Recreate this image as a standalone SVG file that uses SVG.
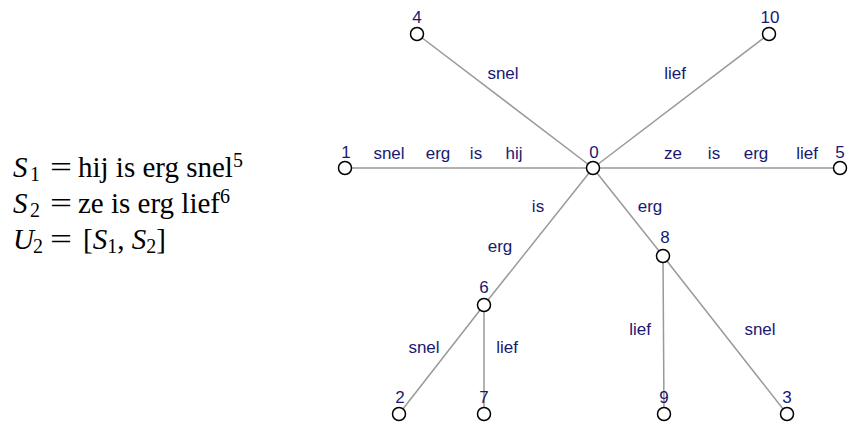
<svg xmlns="http://www.w3.org/2000/svg" width="849" height="426" viewBox="0 0 849 426">
<style>
.e{stroke:#999;stroke-width:1.5;fill:none}
.n{fill:#fff;stroke:#000;stroke-width:1.5}
.t{font-family:"Liberation Sans",Arial,sans-serif;font-size:17px;fill:#191970;text-anchor:middle}
.m{font-family:"Liberation Serif","Times New Roman",serif;font-size:29px;fill:#000}
.i{font-style:italic}
.s{font-size:20px}
</style>
<rect width="849" height="426" fill="#fff"/>
<g id="formula">
<text class="m" y="177"><tspan class="i" x="13">S</tspan><tspan class="s" x="30" y="181">1</tspan><tspan x="50" y="177" textLength="22" lengthAdjust="spacingAndGlyphs">=</tspan><tspan x="78">hij is erg snel</tspan><tspan class="s" dy="-10">5</tspan></text>
<text class="m" y="213"><tspan class="i" x="13">S</tspan><tspan class="s" x="30" y="217">2</tspan><tspan x="50" y="213" textLength="22" lengthAdjust="spacingAndGlyphs">=</tspan><tspan x="78">ze is erg lief</tspan><tspan class="s" dy="-10">6</tspan></text>
<text class="m" y="249"><tspan class="i" x="13">U</tspan><tspan class="s" x="33" y="253">2</tspan><tspan x="50" y="249" textLength="22" lengthAdjust="spacingAndGlyphs">=</tspan><tspan x="83">[</tspan><tspan class="i">S</tspan><tspan class="s" dy="4">1</tspan><tspan dy="-4">, </tspan><tspan class="i">S</tspan><tspan class="s" dy="4">2</tspan><tspan dy="-4">]</tspan></text>
</g>
<g id="connectors">
<line class="e" x1="593" y1="168" x2="345" y2="168"/>
<line class="e" x1="593" y1="168" x2="840" y2="168"/>
<line class="e" x1="593" y1="168" x2="417" y2="34"/>
<line class="e" x1="593" y1="168" x2="769" y2="34"/>
<line class="e" x1="593" y1="168" x2="484" y2="305"/>
<line class="e" x1="593" y1="168" x2="663" y2="256"/>
<line class="e" x1="484" y1="305" x2="399" y2="414"/>
<line class="e" x1="484" y1="305" x2="484" y2="414"/>
<line class="e" x1="663" y1="256" x2="664" y2="414"/>
<line class="e" x1="663" y1="256" x2="787" y2="414"/>
<text class="t" x="389" y="159">snel</text>
<text class="t" x="438" y="159">erg</text>
<text class="t" x="476" y="159">is</text>
<text class="t" x="514" y="159">hij</text>
<text class="t" x="673" y="159">ze</text>
<text class="t" x="714" y="159">is</text>
<text class="t" x="756" y="159">erg</text>
<text class="t" x="807" y="159">lief</text>
<text class="t" x="503" y="79">snel</text>
<text class="t" x="675" y="79">lief</text>
<text class="t" x="538" y="212">is</text>
<text class="t" x="650" y="212">erg</text>
<text class="t" x="500" y="252">erg</text>
<text class="t" x="424" y="353">snel</text>
<text class="t" x="507" y="353">lief</text>
<text class="t" x="640" y="335">lief</text>
<text class="t" x="760" y="335">snel</text>
</g>
<g id="n0"><circle class="n" cx="593" cy="168" r="6.5"/><text class="t" x="594" y="158">0</text></g>
<g id="n1"><circle class="n" cx="345" cy="168" r="6.5"/><text class="t" x="346" y="158">1</text></g>
<g id="n5"><circle class="n" cx="840" cy="168" r="6.5"/><text class="t" x="840" y="158">5</text></g>
<g id="n4"><circle class="n" cx="417" cy="34" r="6.5"/><text class="t" x="417" y="23">4</text></g>
<g id="n10"><circle class="n" cx="769" cy="34" r="6.5"/><text class="t" x="770" y="23">10</text></g>
<g id="n6"><circle class="n" cx="484" cy="305" r="6.5"/><text class="t" x="484" y="293">6</text></g>
<g id="n8"><circle class="n" cx="663" cy="256" r="6.5"/><text class="t" x="665" y="243">8</text></g>
<g id="n2"><circle class="n" cx="399" cy="414" r="6.5"/><text class="t" x="400" y="403">2</text></g>
<g id="n7"><circle class="n" cx="484" cy="414" r="6.5"/><text class="t" x="484" y="403">7</text></g>
<g id="n9"><circle class="n" cx="664" cy="414" r="6.5"/><text class="t" x="664" y="403">9</text></g>
<g id="n3"><circle class="n" cx="787" cy="414" r="6.5"/><text class="t" x="787" y="403">3</text></g>
</svg>
